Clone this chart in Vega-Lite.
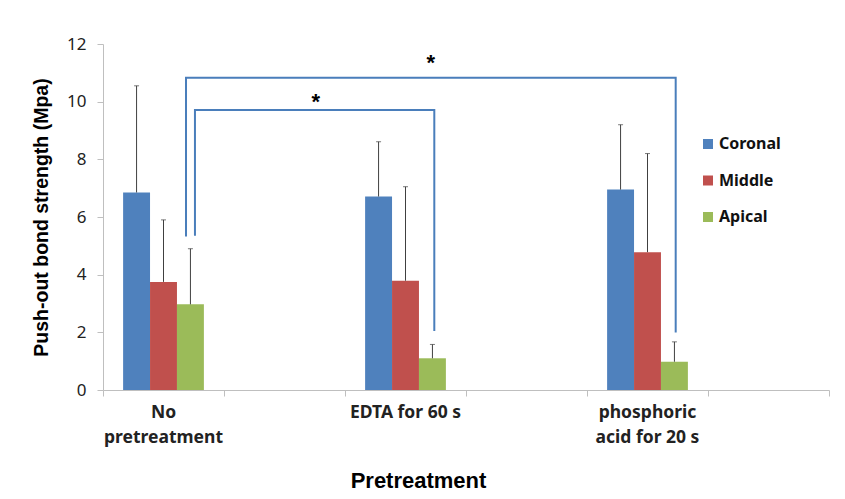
{
  "$schema": "https://vega.github.io/schema/vega-lite/v6.json",
  "width": 726,
  "height": 346,
  "autosize": {"type": "none"},
  "padding": {"left": 103, "top": 44, "right": 16, "bottom": 109},
  "background": "white",
  "config": {"view": {"stroke": null}},
  "datasets": {
    "bars": [
      {"pretreatment": "No pretreatment", "region": "Coronal", "mean": 6.85, "upper": 10.55},
      {"pretreatment": "No pretreatment", "region": "Middle", "mean": 3.75, "upper": 5.9},
      {"pretreatment": "No pretreatment", "region": "Apical", "mean": 2.97, "upper": 4.9},
      {"pretreatment": "EDTA for 60 s", "region": "Coronal", "mean": 6.71, "upper": 8.61},
      {"pretreatment": "EDTA for 60 s", "region": "Middle", "mean": 3.79, "upper": 7.05},
      {"pretreatment": "EDTA for 60 s", "region": "Apical", "mean": 1.1, "upper": 1.58},
      {"pretreatment": "phosphoric acid for 20 s", "region": "Coronal", "mean": 6.95, "upper": 9.2},
      {"pretreatment": "phosphoric acid for 20 s", "region": "Middle", "mean": 4.78, "upper": 8.2},
      {"pretreatment": "phosphoric acid for 20 s", "region": "Apical", "mean": 0.98, "upper": 1.67}
    ],
    "brackets": [
      {"bracket": "outer", "step": 1, "pos": 0.686, "y": 5.32},
      {"bracket": "outer", "step": 2, "pos": 0.686, "y": 10.83},
      {"bracket": "outer", "step": 3, "pos": 4.733, "y": 10.83},
      {"bracket": "outer", "step": 4, "pos": 4.733, "y": 1.99},
      {"bracket": "inner", "step": 1, "pos": 0.76, "y": 5.35},
      {"bracket": "inner", "step": 2, "pos": 0.76, "y": 9.71},
      {"bracket": "inner", "step": 3, "pos": 2.738, "y": 9.71},
      {"bracket": "inner", "step": 4, "pos": 2.738, "y": 2.05}
    ],
    "stars": [
      {"pos": 2.708, "y": 11.09, "label": "*"},
      {"pos": 1.758, "y": 9.76, "label": "*"}
    ]
  },
  "layer": [
    {
      "data": {"name": "bars"},
      "encoding": {
        "x": {
          "field": "pretreatment",
          "type": "nominal",
          "sort": null,
          "scale": {
            "domain": ["No pretreatment", "b1", "EDTA for 60 s", "b2", "phosphoric acid for 20 s", "b3"],
            "paddingInner": 0,
            "paddingOuter": 0
          },
          "axis": {
            "title": "Pretreatment",
            "bandPosition": 1,
            "tickExtra": true,
            "labelAngle": 0,
            "labelOverlap": false,
            "labelBound": false,
            "labelExpr": "datum.value == 'No pretreatment' ? ['No', 'pretreatment'] : datum.value == 'phosphoric acid for 20 s' ? ['phosphoric', 'acid for 20 s'] : datum.value == 'EDTA for 60 s' ? 'EDTA for 60 s' : ''",
            "labelFont": "Noto Sans",
            "labelFontSize": 17.5,
            "labelFontWeight": "bold",
            "labelColor": "#222222",
            "labelPadding": 7,
            "labelLineHeight": 25,
            "labelBaseline": "top",
            "domainColor": "#bfbfbf",
            "tickColor": "#bfbfbf",
            "tickSize": 6,
            "titleFont": "Liberation Sans",
            "titleFontSize": 22,
            "titleFontWeight": "bold",
            "titleColor": "#000000",
            "titleX": 315,
            "titleY": 97,
            "titleAlign": "center",
            "titleBaseline": "alphabetic"
          }
        },
        "xOffset": {
          "field": "region",
          "type": "nominal",
          "sort": null,
          "scale": {"domain": ["Coronal", "Middle", "Apical"], "paddingInner": 0, "paddingOuter": 0.747}
        },
        "y": {
          "type": "quantitative",
          "scale": {"domain": [0, 12], "nice": false},
          "axis": {
            "title": "Push-out bond strength (Mpa)",
            "values": [0, 2, 4, 6, 8, 10, 12],
            "grid": false,
            "domainColor": "#bfbfbf",
            "tickColor": "#bfbfbf",
            "tickSize": 6,
            "labelFont": "Noto Sans",
            "labelFontSize": 17,
            "labelColor": "#222222",
            "labelPadding": 11,
            "titleFont": "Liberation Sans",
            "titleFontSize": 19.5,
            "titleFontWeight": "bold",
            "titleColor": "#000000",
            "titleX": -56,
            "titleY": 173,
            "titleAlign": "center",
            "titleBaseline": "alphabetic",
            "titleAngle": 270
          }
        }
      },
      "layer": [
        {
          "mark": {"type": "bar"},
          "encoding": {
            "y": {"field": "mean", "type": "quantitative"},
            "color": {
              "field": "region",
              "type": "nominal",
              "sort": null,
              "scale": {"domain": ["Coronal", "Middle", "Apical"], "range": ["#4F81BD", "#C0504D", "#9BBB59"]},
              "legend": {
                "title": null,
                "orient": "none",
                "legendX": 597,
                "legendY": 92,
                "padding": 0,
                "symbolType": "square",
                "symbolSize": 100,
                "symbolStrokeWidth": 0,
                "labelFont": "Noto Sans",
                "labelFontSize": 16,
                "labelFontWeight": "bold",
                "labelColor": "#111111",
                "labelOffset": 3,
                "rowPadding": 20.5
              }
            }
          }
        },
        {
          "mark": {"type": "rule", "color": "#404040", "strokeWidth": 1},
          "encoding": {
            "y": {"field": "mean", "type": "quantitative"},
            "y2": {"field": "upper"}
          }
        },
        {
          "mark": {"type": "tick", "color": "#404040", "size": 5, "thickness": 1},
          "encoding": {
            "y": {"field": "upper", "type": "quantitative"}
          }
        }
      ]
    },
    {
      "layer": [
        {
          "data": {"name": "brackets"},
          "mark": {"type": "line", "color": "#4a7ebb", "strokeWidth": 2},
          "encoding": {
            "x": {"field": "pos", "type": "quantitative", "scale": {"domain": [0, 6], "nice": false, "zero": false}, "axis": null},
            "y": {"field": "y", "type": "quantitative"},
            "detail": {"field": "bracket"},
            "order": {"field": "step", "type": "quantitative"}
          }
        },
        {
          "data": {"name": "stars"},
          "mark": {"type": "text", "font": "Liberation Sans", "fontSize": 22, "fontWeight": "bold", "color": "#000000", "baseline": "alphabetic", "align": "center"},
          "encoding": {
            "x": {"field": "pos", "type": "quantitative", "axis": null},
            "y": {"field": "y", "type": "quantitative"},
            "text": {"field": "label"}
          }
        }
      ]
    }
  ],
  "resolve": {"scale": {"x": "independent"}}
}
